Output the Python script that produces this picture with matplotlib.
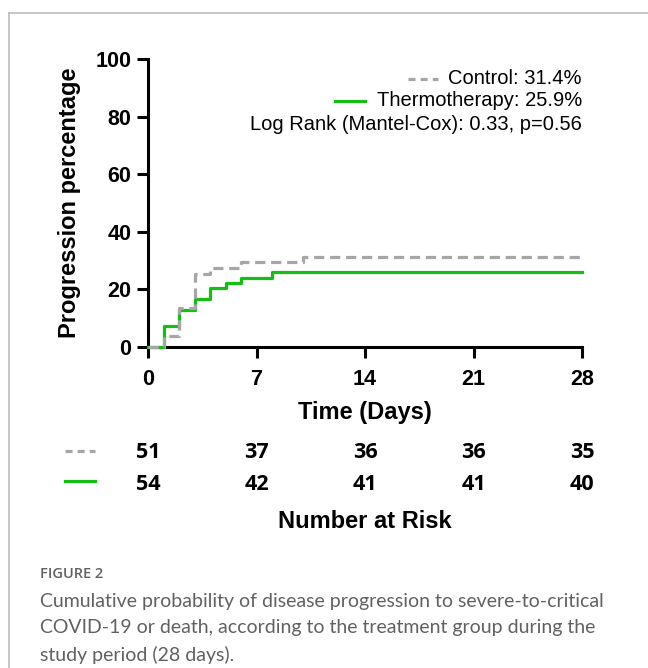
import matplotlib
matplotlib.use("Agg")
import matplotlib.pyplot as plt
from matplotlib.lines import Line2D
import matplotlib.transforms as mtransforms

# ---- data ----
control_days = [0, 1, 2, 3, 4, 6, 10, 28]
control_pct = [0, 3.9, 13.7, 25.5, 27.5, 29.4, 31.4, 31.4]
thermo_days = [0, 1, 2, 3, 4, 5, 6, 8, 28]
thermo_pct = [0, 7.4, 13.0, 16.7, 20.4, 22.2, 24.1, 25.9, 25.9]
x_ticks = [0, 7, 14, 21, 28]
y_ticks = [0, 20, 40, 60, 80, 100]
risk_control = [51, 37, 36, 36, 35]
risk_thermo = [54, 42, 41, 41, 40]
legend_labels = ["Control: 31.4%", "Thermotherapy: 25.9%", "Log Rank (Mantel-Cox): 0.33, p=0.56"]
caption_head = "FIGURE 2"
caption_lines = ["Cumulative probability of disease progression to severe-to-critical",
                 "COVID-19 or death, according to the treatment group during the",
                 "study period (28 days)."]

W, H = 648, 668
GREEN = "#14BE14"
GRAY = "#A6A6A8"

plt.rcParams['font.family'] = ['Liberation Sans', 'DejaVu Sans']

fig = plt.figure(figsize=(W / 100, H / 100), dpi=100)
fig.patch.set_facecolor("white")

def fx(px):
    return px / W

def fy(py):
    return 1 - py / H

# frame
fig.add_artist(Line2D([fx(8.5), fx(8.5)], [fy(12.5), fy(700)], color="#BDBDBD", lw=1.2, transform=fig.transFigure))
fig.add_artist(Line2D([fx(8.5), fx(700)], [fy(12.5), fy(12.5)], color="#BDBDBD", lw=1.2, transform=fig.transFigure))

ax = fig.add_axes([fx(148), fy(347), (582 - 148) / W, (347 - 59) / H])
ax.set_xlim(0, 28)
ax.set_ylim(0, 100)

ax.step(thermo_days, thermo_pct, where='post', color=GREEN, lw=2.3, clip_on=False, zorder=3)
ax.step(control_days, control_pct, where='post', color=GRAY, lw=2.3, ls=(0, (3.2, 1.8)),
        clip_on=False, zorder=4)

for s in ["top", "right"]:
    ax.spines[s].set_visible(False)
for s in ["left", "bottom"]:
    ax.spines[s].set_linewidth(2.2)
ax.set_xticks(x_ticks)
ax.set_yticks(y_ticks)
ax.tick_params(axis='both', length=8, width=2.2, labelsize=15.5)
ax.tick_params(axis='y', pad=4)
ax.tick_params(axis='x', pad=8)
for lab in ax.get_xticklabels() + ax.get_yticklabels():
    lab.set_fontweight('bold')

ax.set_xlabel("Time (Days)", fontsize=17, fontweight='bold', labelpad=8)
ax.set_ylabel("Progression percentage", fontsize=17, fontweight='bold', labelpad=10)

# legend (manual, right aligned)
fig.text(fx(582), fy(79), legend_labels[0], ha='right', va='center', fontsize=14.5)
fig.text(fx(582), fy(101), legend_labels[1], ha='right', va='center', fontsize=14.5)
fig.text(fx(582), fy(124), legend_labels[2], ha='right', va='center', fontsize=14.5)
fig.add_artist(Line2D([fx(408), fx(438)], [fy(79), fy(79)], color=GRAY, lw=2.3, ls=(0, (2.2, 1.6)),
                      transform=fig.transFigure))
fig.add_artist(Line2D([fx(335), fx(365)], [fy(101), fy(101)], color=GREEN, lw=2.3,
                      transform=fig.transFigure))

# number at risk table
blend = mtransforms.blended_transform_factory(ax.transData, fig.transFigure)
for x, c, t in zip(x_ticks, risk_control, risk_thermo):
    fig.text(x, fy(453), str(c), transform=blend, ha='center', va='center',
             fontsize=15.5, fontweight='bold', family=['Open Sans', 'Liberation Sans'])
    fig.text(x, fy(485), str(t), transform=blend, ha='center', va='center',
             fontsize=15.5, fontweight='bold', family=['Open Sans', 'Liberation Sans'])
fig.add_artist(Line2D([fx(65), fx(95)], [fy(451), fy(451)], color=GRAY, lw=2.3, ls=(0, (2.2, 1.6)),
                      transform=fig.transFigure))
fig.add_artist(Line2D([fx(65), fx(95)], [fy(481), fy(481)], color=GREEN, lw=2.3,
                      transform=fig.transFigure))
fig.text(14, fy(521), "Number at Risk", transform=blend, ha='center', va='center',
         fontsize=17, fontweight='bold')

# caption
fig.text(fx(40), fy(574), caption_head, ha='left', va='center', fontsize=10.5,
         color="#616161", family='Open Sans', fontweight='semibold')
for i, line in enumerate(caption_lines):
    fig.text(fx(40), fy(601 + 27 * i), line, ha='left', va='center', fontsize=14,
             color="#616161", family='Lato', fontweight='normal')

fig.savefig("out.png", dpi=100)
